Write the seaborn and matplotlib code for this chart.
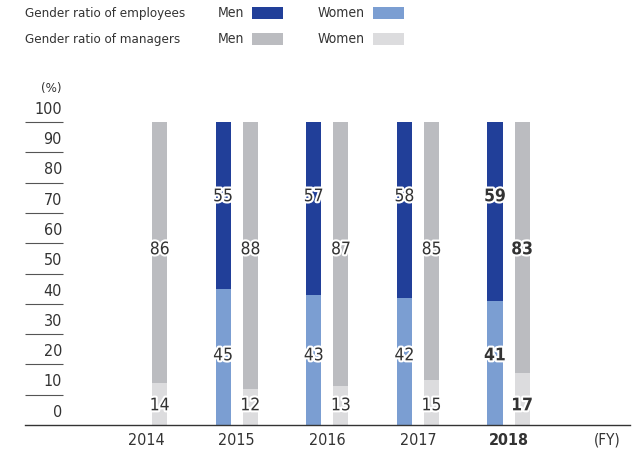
import numpy as np
import pandas as pd
import matplotlib
matplotlib.use("Agg")
import matplotlib.pyplot as plt
import matplotlib.patheffects as pe
from matplotlib.patches import Rectangle
import seaborn as sns

# data
years = ["2014", "2015", "2016", "2017", "2018"]
emp_men = [None, 55, 57, 58, 59]
emp_women = [None, 45, 43, 42, 41]
mgr_men = [86, 88, 87, 85, 83]
mgr_women = [14, 12, 13, 15, 17]
y_ticks = [0, 10, 20, 30, 40, 50, 60, 70, 80, 90, 100]

DARK_BLUE = "#213f99"
LIGHT_BLUE = "#7b9ed2"
GRAY = "#bbbcc0"
LIGHT_GRAY = "#dcdcde"
TEXT = "#333333"

# value labels sit at a fixed height per series in the original
LABEL_Y = {("Employees", "men"): 75.5, ("Employees", "women"): 23,
           ("Managers", "men"): 58, ("Managers", "women"): 6.5}

sns.set_style("white")
plt.rcParams["font.family"] = ["DejaVu Sans"]
plt.rcParams["font.stretch"] = "condensed"

rows = []
for i, y in enumerate(years):
    if emp_men[i] is not None:
        rows.append({"year": y, "group": "Employees", "men": emp_men[i], "women": emp_women[i]})
    rows.append({"year": y, "group": "Managers", "men": mgr_men[i], "women": mgr_women[i]})
df = pd.DataFrame(rows)
df["total"] = df["men"] + df["women"]

fig = plt.figure(figsize=(6.33, 4.59), dpi=100)
ax = fig.add_axes([25 / 633, 34 / 459, 605 / 633, 303 / 459])

common = dict(data=df, x="year", hue="group", order=years,
              hue_order=["Employees", "Managers"], width=0.6, gap=0.444,
              saturation=1, linewidth=0, legend=False, ax=ax, errorbar=None)
sns.barplot(y="total", palette=[DARK_BLUE, GRAY], **common)
n_first = len(ax.containers)
sns.barplot(y="women", palette=[LIGHT_BLUE, LIGHT_GRAY], **common)

ax.set_ylim(0, 100)
ax.set_xlim(-1.336, 5.34)
ax.set_xlabel("")
ax.set_ylabel("")
ax.set_yticks([])
for s in ["top", "right", "left"]:
    ax.spines[s].set_visible(False)
ax.spines["bottom"].set_color(TEXT)
ax.spines["bottom"].set_linewidth(1.0)
ax.tick_params(axis="x", length=0, pad=6, labelsize=11.5, labelcolor=TEXT)
for lbl in ax.get_xticklabels():
    if lbl.get_text() == "2018":
        lbl.set_fontweight("bold")

# short gridlines + labels on the left
ax.hlines(y_ticks[1:], 0, 0.063, transform=ax.get_yaxis_transform(),
          color="#555555", linewidth=0.8, clip_on=False)
for v in y_ticks:
    ax.text(0.061, v + 4.2, str(v), transform=ax.get_yaxis_transform(),
            ha="right", va="center", fontsize=11.5, color=TEXT)
ax.text(0.061, 111, "(%)", transform=ax.get_yaxis_transform(),
        ha="right", va="center", fontsize=9.5, color=TEXT)
ax.text(0.963, -0.05, "(FY)", transform=ax.transAxes,
        ha="center", va="center", fontsize=11, color=TEXT)

# value labels
stroke = [pe.withStroke(linewidth=3, foreground="white")]
groups = ["Employees", "Managers"]
for gi, cont in enumerate(ax.containers[:n_first]):
    g = groups[gi]
    sub = df[df["group"] == g].reset_index(drop=True)
    for bar, (_, r) in zip(cont.patches, sub.iterrows()):
        xc = bar.get_x() + bar.get_width() / 2
        weight = "bold" if r["year"] == "2018" else "normal"
        for col in ["men", "women"]:
            ax.text(xc, LABEL_Y[(g, col)], str(r[col]), ha="center", va="center",
                    fontsize=12.5, color=TEXT, fontweight=weight, path_effects=stroke)

# legend drawn in figure pixels
def px(x, y):
    return x / 633, 1 - y / 459

legend_rows = [("Gender ratio of employees", DARK_BLUE, LIGHT_BLUE, 13),
               ("Gender ratio of managers", GRAY, LIGHT_GRAY, 39)]
for title, c_men, c_women, yc in legend_rows:
    fig.text(*px(25, yc), title, ha="left", va="center", fontsize=9.5, color=TEXT)
    fig.text(*px(244, yc), "Men", ha="right", va="center", fontsize=10, color=TEXT)
    fig.text(*px(365, yc), "Women", ha="right", va="center", fontsize=10, color=TEXT)
    for x0, c in [(252, c_men), (373, c_women)]:
        fig.patches.append(Rectangle(px(x0, yc + 6), 31 / 633, 12 / 459,
                                     transform=fig.transFigure, color=c, linewidth=0))

fig.savefig("out.png", dpi=100)
